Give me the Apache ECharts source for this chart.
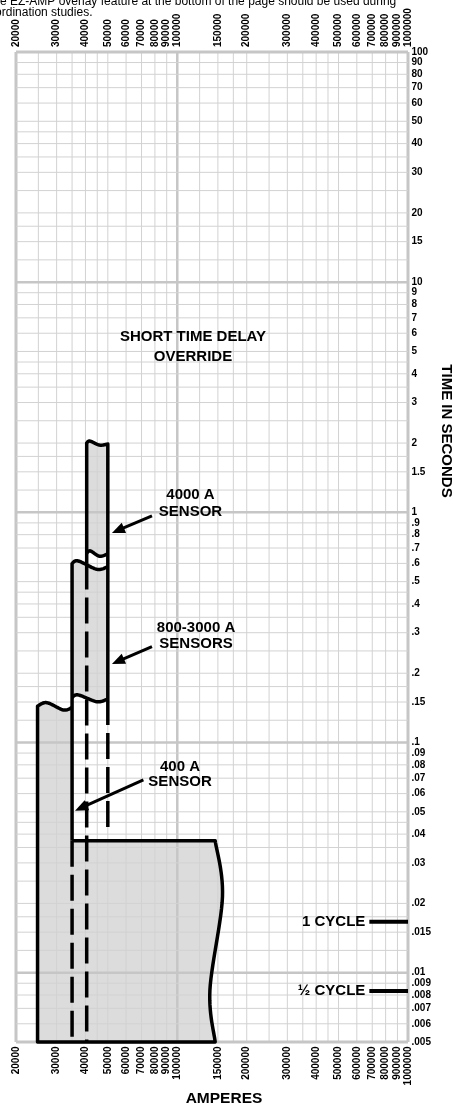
<!DOCTYPE html>
<html>
<head>
<meta charset="utf-8">
<script src="https://cdn.jsdelivr.net/npm/echarts@6.0.0/dist/echarts.min.js"></script>
<style>
html, body { margin: 0; padding: 0; background: #fff; }
#chart { width: 454px; height: 1109px; }
</style>
</head>
<body>
<div id="chart"></div>
<script>
const xMin = 20000, xMax = 1000000;
const yMin = 0.005, yMax = 100;

// grid lines of the log-log paper
const xGrid = [20000, 25000, 30000, 35000, 40000, 45000, 50000, 60000, 70000, 80000, 90000,
    100000, 125000, 150000, 175000, 200000, 250000, 300000, 350000, 400000, 450000,
    500000, 600000, 700000, 800000, 900000, 1000000];
const xMajor = [100000];
const yGrid = [0.005, 0.006, 0.007, 0.008, 0.009,
    0.01, 0.0125, 0.015, 0.0175, 0.02, 0.025, 0.03, 0.035, 0.04, 0.045, 0.05, 0.06, 0.07, 0.08, 0.09,
    0.1, 0.125, 0.15, 0.175, 0.2, 0.25, 0.3, 0.35, 0.4, 0.45, 0.5, 0.6, 0.7, 0.8, 0.9,
    1, 1.25, 1.5, 1.75, 2, 2.5, 3, 3.5, 4, 4.5, 5, 6, 7, 8, 9,
    10, 12.5, 15, 17.5, 20, 25, 30, 35, 40, 45, 50, 60, 70, 80, 90, 100];
const yMajor = [0.01, 0.1, 1, 10];

// tick labels
const xTickLabels = [20000, 30000, 40000, 50000, 60000, 70000, 80000, 90000, 100000,
    150000, 200000, 300000, 400000, 500000, 600000, 700000, 800000, 900000, 1000000];
const yTickLabels = ['100', '90', '80', '70', '60', '50', '40', '30', '20', '15',
    '10', '9', '8', '7', '6', '5', '4', '3', '2', '1.5',
    '1', '.9', '.8', '.7', '.6', '.5', '.4', '.3', '.2', '.15',
    '.1', '.09', '.08', '.07', '.06', '.05', '.04', '.03', '.02', '.015',
    '.01', '.009', '.008', '.007', '.006', '.005'];

// wavy band edges [amperes, seconds]
const band4000Top = [[40500, 2.0], [41800, 2.04], [46000, 1.96], [50000, 1.98]];
const band4000Bottom = [[40500, 0.665], [42000, 0.68], [46000, 0.645], [50000, 0.66]];
const band800Top = [[35000, 0.6], [37200, 0.615], [44800, 0.566], [50000, 0.58]];
const band800Bottom = [[35000, 0.157], [37200, 0.161], [44800, 0.1505], [50000, 0.1545]];
const band400Top = [[24800, 0.144], [27200, 0.149], [32100, 0.1385], [35000, 0.142]];
const instEdge = [[146000, 0.0374], [157000, 0.0214], [138500, 0.0084], [146000, 0.005]];

const rev = a => a.slice().reverse();

// shaded areas, built from the edges
const fills = [
    [band4000Top, [[50000, 1.98], [50000, 0.66]], rev(band4000Bottom)],
    [band800Top, rev(band800Bottom)],
    [[[24800, 0.005], [24800, 0.144]], band400Top, [[35000, 0.142], [35000, 0.0374]],
        [[35000, 0.0374], [146000, 0.0374]], instEdge, [[146000, 0.005], [24800, 0.005]]]
];
const outlines = [
    [[[40500, 0.6], [40500, 2.0]], band4000Top, [[50000, 1.98], [50000, 0.1545]]],
    [band4000Bottom],
    [[[35000, 0.0374], [35000, 0.6]], band800Top],
    [band800Bottom],
    [[[35000, 0.0374], [146000, 0.0374]], instEdge, [[146000, 0.005], [24800, 0.005]],
        [[24800, 0.005], [24800, 0.144]], band400Top]
];
const dashed = [
    [[40500, 0.6], [40500, 0.005]],
    [[50000, 0.1545], [50000, 0.0405]],
    [[35000, 0.0374], [35000, 0.005]]
];

// arrows: tail x, tail y, tip x, tip y
const arrows = [
    [77700, 0.965, 52100, 0.814],
    [77700, 0.261, 52100, 0.2195],
    [71300, 0.0688, 36050, 0.0506]
];
const notes = [
    [117000, 5.23, 'SHORT TIME DELAY\nOVERRIDE'],
    [114100, 1.095, '4000 A\nSENSOR'],
    [120600, 0.292, '800-3000 A\nSENSORS'],
    [102800, 0.0727, '400 A\nSENSOR']
];
const noteLeading = [20, 16.5, 16, 15];
const cycles = [[1 / 60, '1 CYCLE'], [1 / 120, '½ CYCLE']];
const cycleStart = 680000;

const FONT = '"Liberation Sans", Arial, Helvetica, sans-serif';
const GRID = '#d2d2d2', GRID_MAJOR = '#c6c6c6', FILL = '#dcdcdc';

function catmull(pts, steps) {
    const out = [];
    for (let i = 0; i < pts.length - 1; i++) {
        const p0 = pts[Math.max(i - 1, 0)], p1 = pts[i], p2 = pts[i + 1];
        const p3 = pts[Math.min(i + 2, pts.length - 1)];
        for (let s = 0; s < steps; s++) {
            const t = s / steps, t2 = t * t, t3 = t2 * t;
            out.push([0, 1].map(k => 0.5 * (2 * p1[k] + (p2[k] - p0[k]) * t +
                (2 * p0[k] - 5 * p1[k] + 4 * p2[k] - p3[k]) * t2 +
                (3 * p1[k] - p0[k] - 3 * p2[k] + p3[k]) * t3)));
        }
    }
    out.push(pts[pts.length - 1]);
    return out;
}

function trace(api, pieces) {
    let out = [];
    pieces.forEach(piece => {
        const px = piece.map(p => api.coord(p));
        out = out.concat(px.length > 2 ? catmull(px, 14) : px);
    });
    return out;
}

const chart = echarts.init(document.getElementById('chart'), null, { renderer: 'canvas' });

const option = {
    animation: false,
    grid: { left: 16, top: 52, width: 392, height: 990, containLabel: false, outerBoundsMode: 'none' },
    xAxis: { type: 'log', logBase: 10, min: xMin, max: xMax, show: false },
    yAxis: { type: 'log', logBase: 10, min: yMin, max: yMax, show: false },
    graphic: [
        { type: 'text', x: -14, y: 1.5, style: { text: 'The EZ-AMP overlay feature at the bottom of the page should be used during', font: '12px ' + FONT, fill: '#000', verticalAlign: 'middle' } },
        { type: 'text', x: -17.6, y: 12.8, style: { text: 'coordination studies.', font: '12px ' + FONT, fill: '#000', verticalAlign: 'middle' } },
        { type: 'text', x: 224, y: 1099, style: { text: 'AMPERES', font: 'bold 15.5px ' + FONT, fill: '#000', align: 'center', verticalAlign: 'middle' } },
        { type: 'text', x: 446, y: 431, rotation: -Math.PI / 2, style: { text: 'TIME IN SECONDS', font: 'bold 15px ' + FONT, fill: '#000', align: 'center', verticalAlign: 'middle' } }
    ],
    series: [
        {
            // shaded trip bands
            type: 'custom', z: 1, silent: true,
            data: fills.map((f, i) => [f[0][0][0], f[0][0][1], i]),
            renderItem: (params, api) => ({
                type: 'polygon',
                shape: { points: trace(api, fills[api.value(2)]) },
                style: { fill: FILL, stroke: null }
            })
        },
        {
            // paper grid
            type: 'custom', z: 2, silent: true,
            data: xGrid.map(v => [v, yMin, 0]).concat(yGrid.map(v => [xMin, v, 1])),
            renderItem: (params, api) => {
                const vertical = api.value(2) === 0;
                const v = vertical ? api.value(0) : api.value(1);
                const a = vertical ? api.coord([v, yMin]) : api.coord([xMin, v]);
                const b = vertical ? api.coord([v, yMax]) : api.coord([xMax, v]);
                const edge = vertical ? (v === xMin || v === xMax) : (v === yMin || v === yMax);
                const major = (vertical ? xMajor : yMajor).includes(v);
                let w = 1, c = GRID;
                if (major) { w = 2.5; c = GRID_MAJOR; }
                if (edge) { w = 3; c = GRID_MAJOR; }
                return {
                    type: 'line',
                    shape: { x1: a[0], y1: a[1], x2: b[0], y2: b[1] },
                    style: { stroke: c, lineWidth: w }
                };
            }
        },
        {
            // solid curve outlines
            type: 'custom', z: 3, silent: true,
            data: outlines.map((o, i) => [o[0][0][0], o[0][0][1], i]),
            renderItem: (params, api) => ({
                type: 'polyline',
                shape: { points: trace(api, outlines[api.value(2)]) },
                style: { stroke: '#000', lineWidth: 3.5, fill: 'none', lineJoin: 'round' }
            })
        },
        {
            // dashed continuation lines
            type: 'custom', z: 3, silent: true,
            data: dashed.map((d, i) => [d[0][0], d[0][1], i]),
            renderItem: (params, api) => {
                const d = dashed[api.value(2)];
                const a = api.coord(d[0]), b = api.coord(d[1]);
                return {
                    type: 'line',
                    shape: { x1: a[0], y1: a[1], x2: b[0], y2: b[1] },
                    style: { stroke: '#000', lineWidth: 3.5, lineDash: [26, 8] }
                };
            }
        },
        {
            // cycle markers
            type: 'custom', z: 3, silent: true,
            data: cycles.map((c, i) => [cycleStart, c[0], i]),
            renderItem: (params, api) => {
                const a = api.coord([cycleStart, api.value(1)]);
                const b = api.coord([xMax, api.value(1)]);
                return {
                    type: 'group',
                    children: [
                        { type: 'line', shape: { x1: a[0], y1: a[1], x2: b[0], y2: b[1] }, style: { stroke: '#000', lineWidth: 4 } },
                        { type: 'text', x: a[0] - 4, y: a[1], style: { text: cycles[api.value(2)][1], font: 'bold 15px ' + FONT, fill: '#000', align: 'right', verticalAlign: 'middle' } }
                    ]
                };
            }
        },
        {
            // arrows
            type: 'custom', z: 4, silent: true,
            data: arrows,
            renderItem: (params, api) => {
                const p0 = api.coord([api.value(0), api.value(1)]);
                const p1 = api.coord([api.value(2), api.value(3)]);
                const dx = p1[0] - p0[0], dy = p1[1] - p0[1];
                const len = Math.sqrt(dx * dx + dy * dy);
                const ux = dx / len, uy = dy / len;
                const hl = 13, hw = 5.5;
                const bx = p1[0] - ux * hl, by = p1[1] - uy * hl;
                return {
                    type: 'group',
                    children: [
                        { type: 'line', shape: { x1: p0[0], y1: p0[1], x2: bx + ux, y2: by + uy }, style: { stroke: '#000', lineWidth: 3 } },
                        { type: 'polygon', shape: { points: [p1, [bx - uy * hw, by + ux * hw], [bx + uy * hw, by - ux * hw]] }, style: { fill: '#000' } }
                    ]
                };
            }
        },
        {
            // annotations
            type: 'custom', z: 4, silent: true,
            data: notes.map((n, i) => [n[0], n[1], i]),
            renderItem: (params, api) => {
                const p = api.coord([api.value(0), api.value(1)]);
                const i = api.value(2);
                return {
                    type: 'text', x: p[0], y: p[1],
                    style: { text: notes[i][2], font: 'bold 15px ' + FONT, fill: '#000', align: 'center', verticalAlign: 'middle', lineHeight: noteLeading[i] }
                };
            }
        },
        {
            // amperes tick labels, bottom and top
            type: 'custom', z: 4, silent: true,
            data: xTickLabels.map(v => [v, yMin]),
            renderItem: (params, api) => {
                const v = api.value(0);
                const b = api.coord([v, yMin]), t = api.coord([v, yMax]);
                const st = { text: String(v), font: 'bold 10px ' + FONT, fill: '#000', verticalAlign: 'middle' };
                return {
                    type: 'group',
                    children: [
                        { type: 'text', x: b[0], y: b[1] + 4.5, rotation: Math.PI / 2, style: Object.assign({ align: 'right' }, st) },
                        { type: 'text', x: t[0], y: t[1] - 5, rotation: Math.PI / 2, style: Object.assign({ align: 'left' }, st) }
                    ]
                };
            }
        },
        {
            // seconds tick labels
            type: 'custom', z: 4, silent: true,
            data: yTickLabels.map((s, i) => [xMax, Number(s), i]),
            renderItem: (params, api) => {
                const p = api.coord([xMax, api.value(1)]);
                return {
                    type: 'text', x: p[0] + 3.5, y: p[1],
                    style: { text: yTickLabels[api.value(2)], font: 'bold 10px ' + FONT, fill: '#000', align: 'left', verticalAlign: 'middle' }
                };
            }
        }
    ]
};

chart.setOption(option);
</script>
</body>
</html>
